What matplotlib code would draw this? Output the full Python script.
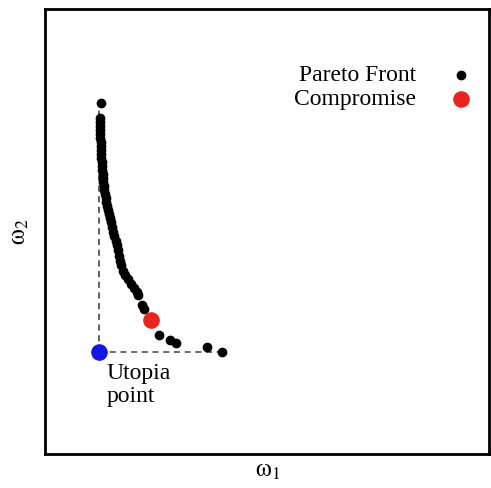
import matplotlib.pyplot as plt

plt.rcParams['font.family'] = ['Liberation Serif', 'DejaVu Serif']
plt.rcParams['mathtext.fontset'] = 'stix'

# pareto front points (omega1, omega2)
front_x = [12.6, 12.4, 12.4, 12.4, 12.4, 12.4, 12.4, 12.6, 12.6, 12.6, 12.6, 12.6,
           12.8, 12.8, 12.8, 13.1, 13.1, 13.1, 13.3, 13.3, 13.5, 13.7, 13.7, 14.0,
           14.2, 14.4, 14.6, 14.9, 15.1, 15.3, 15.5, 16.0, 16.2, 16.4, 16.7, 16.9,
           17.1, 17.6, 18.0, 18.7, 19.4, 20.0, 20.7, 20.9, 21.8, 22.3, 25.7, 28.2,
           29.5, 36.5, 39.9]
front_y = [78.9, 75.5, 74.6, 73.7, 72.8, 71.9, 71.0, 70.1, 69.2, 68.3, 67.4, 66.5,
           65.6, 64.7, 63.8, 62.9, 62.0, 61.1, 60.2, 59.3, 58.4, 57.5, 56.6, 55.7,
           54.8, 53.9, 53.0, 52.1, 51.0, 49.9, 49.0, 47.9, 47.0, 45.8, 44.5, 43.4,
           42.5, 41.1, 40.2, 39.3, 38.2, 37.3, 36.4, 35.7, 33.5, 32.6, 26.7, 25.6,
           24.9, 24.0, 22.9]
compromise = [23.9, 30.1]
utopia = [12.2, 22.9]

fig = plt.figure(figsize=(4.91, 4.88), dpi=100)
ax = fig.add_axes([45/491, 34/488, 444/491, 445/488])

# dashed guide lines from utopia point
ax.plot([utopia[0], utopia[0]], [utopia[1], max(front_y)], lw=1.1, dashes=(4, 3), color='#333333', zorder=1)
ax.plot([utopia[0], max(front_x)], [utopia[1], utopia[1]], lw=1.1, dashes=(4, 3), color='#444444', zorder=1)

ax.scatter(front_x, front_y, s=36, c='black', zorder=2, label='Pareto Front')
ax.scatter([compromise[0]], [compromise[1]], s=120, c='#e8251c', zorder=3, label='Compromise')
ax.scatter([utopia[0]], [utopia[1]], s=120, c='#1414e6', zorder=3)

ax.text(13.8, 20.4, 'Utopia\npoint', fontsize=17, va='top', ha='left', linespacing=1.1)

ax.set_xlim(0, 100)
ax.set_ylim(0, 100)
ax.set_xticks([])
ax.set_yticks([])
for sp in ax.spines.values():
    sp.set_linewidth(2)

ax.set_xlabel(r'$\mathrm{\omega}_{\mathit{1}}$', fontsize=18, labelpad=4)
ax.set_ylabel(r'$\mathrm{\omega}_{2}$', fontsize=18, labelpad=10)

leg = ax.legend(loc='upper right', bbox_to_anchor=(1.027, 0.912), frameon=False,
                markerfirst=False, fontsize=17, handletextpad=0.9,
                labelspacing=0.1, borderpad=0.2)

fig.savefig('out.png', dpi=100)
